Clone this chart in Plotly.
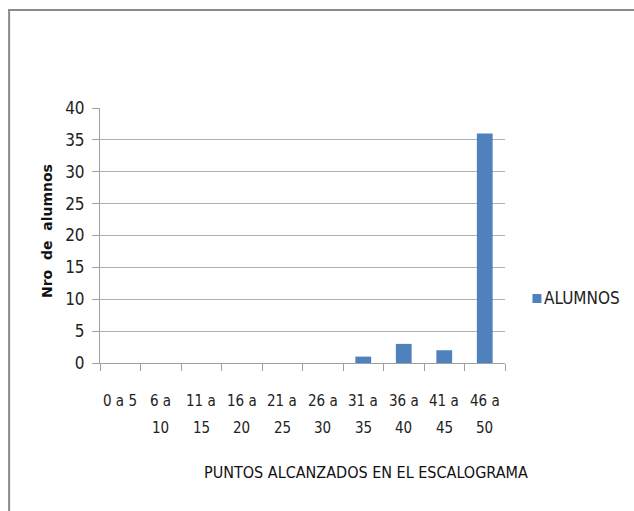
import plotly.graph_objects as go

categories = ["0 a 5", "6 a 10", "11 a 15", "16 a 20", "21 a 25", "26 a 30", "31 a 35", "36 a 40", "41 a 45", "46 a 50"]
line1 = ["0 a 5", "6 a", "11 a", "16 a", "21 a", "26 a", "31 a", "36 a", "41 a", "46 a"]
line2 = ["", "10", "15", "20", "25", "30", "35", "40", "45", "50"]
alumnos = [0, 0, 0, 0, 0, 0, 1, 3, 2, 36]
y_ticks = [0, 5, 10, 15, 20, 25, 30, 35, 40]
series_name = "ALUMNOS"
bar_color = "#4F81BD"

W, H = 634, 511
L, R, T, B = 100, 505.5, 108, 363

def px(x):
    return (x - L) / (R - L)

def py(y):
    return (B - y) / (B - T)

fig = go.Figure()
fig.add_trace(go.Bar(
    x=categories, y=alumnos, name=series_name, showlegend=False,
    marker=dict(color=bar_color, line=dict(width=0)),
))

font_main = "DejaVu Sans Condensed, Liberation Sans Narrow, Arial, sans-serif"
fs = 15

annotations = []
for c, a, b in zip(categories, line1, line2):
    annotations.append(dict(x=c, xref="x", y=py(401), yref="paper", text=a, showarrow=False,
                            font=dict(family=font_main, size=fs, color="#222"), xanchor="center", yanchor="middle"))
    if b:
        annotations.append(dict(x=c, xref="x", y=py(428), yref="paper", text=b, showarrow=False,
                                font=dict(family=font_main, size=fs, color="#222"), xanchor="center", yanchor="middle"))

annotations.append(dict(x=px(366), xref="paper", y=py(472), yref="paper",
                        text="PUNTOS ALCANZADOS EN EL ESCALOGRAMA", showarrow=False,
                        font=dict(family=font_main, size=16, color="#111"), xanchor="center", yanchor="middle"))
annotations.append(dict(x=px(47), xref="paper", y=py(231), yref="paper",
                        text="<b>Nro  de  alumnos</b>", showarrow=False, textangle=-90,
                        font=dict(family="DejaVu Sans, Verdana, sans-serif", size=14, color="#111"),
                        xanchor="center", yanchor="middle"))
# legend entry
annotations.append(dict(x=px(543), xref="paper", y=py(298), yref="paper", text=series_name,
                        showarrow=False, xanchor="left", yanchor="middle",
                        font=dict(family=font_main, size=17, color="#222")))

shapes = [
    dict(type="line", xref="paper", yref="paper", x0=px(9), x1=px(9), y0=py(9), y1=py(520),
         line=dict(color="#8a8a8a", width=2)),
    dict(type="line", xref="paper", yref="paper", x0=px(8), x1=px(640), y0=py(10), y1=py(10),
         line=dict(color="#8a8a8a", width=2)),
    dict(type="rect", xref="paper", yref="paper", x0=px(533), x1=px(542), y0=py(294), y1=py(303),
         fillcolor=bar_color, line=dict(width=0)),
]

fig.update_layout(
    width=W, height=H,
    margin=dict(l=L, r=W - R, t=T, b=H - B, pad=0, autoexpand=False),
    paper_bgcolor="white", plot_bgcolor="white",
    bargap=0.61,
    showlegend=False,
    annotations=annotations,
    shapes=shapes,
    xaxis=dict(type="category", showticklabels=False, ticks="outside", ticklen=7,
               tickson="boundaries", tickcolor="#a0a0a0", showline=True, linecolor="#a0a0a0",
               linewidth=1, showgrid=False, zeroline=False, automargin=False),
    yaxis=dict(range=[0, 40], tickvals=y_ticks, ticks="outside", ticklen=7, tickcolor="#a0a0a0",
               showline=True, linecolor="#a0a0a0", linewidth=1, showgrid=True,
               gridcolor="#b0b0b0", gridwidth=1, zeroline=False, automargin=False,
               ticklabelstandoff=4,
               tickfont=dict(family=font_main, size=17, color="#222")),
)

fig.write_html("out.html", config={"displayModeBar": False},
               post_script="document.body.style.margin='0';document.body.style.overflow='hidden';")
